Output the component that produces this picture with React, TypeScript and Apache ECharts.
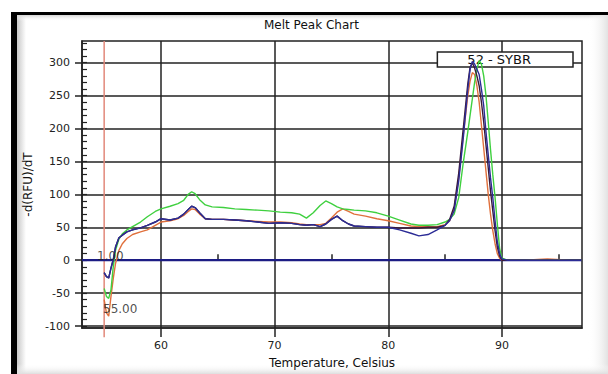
import React, { useEffect, useRef } from "react";
import * as echarts from "echarts";

// Temperatures (°C) at which the melt-peak curves are sampled
const temps = [
  55.0, 55.2, 55.4, 55.6, 55.8, 56.0, 56.3, 56.6, 57.0, 57.5,
  58.2, 58.8, 59.5, 60.0, 60.8, 61.5, 62.0, 62.4, 62.7, 63.0,
  63.4, 63.9, 64.5, 65.5, 66.5, 67.5, 68.5, 69.5, 70.5, 71.5,
  72.2, 72.8, 73.4, 74.0, 74.5, 75.0, 75.5, 76.0, 76.5, 77.0,
  78.0, 79.0, 80.0, 81.0, 82.0, 82.7, 83.5, 84.3, 85.0, 85.4,
  85.8, 86.2, 86.6, 87.0, 87.2, 87.4, 87.6, 87.8, 88.0, 88.2,
  88.4, 88.6, 88.8, 89.0, 89.2, 89.4, 89.6, 89.8, 90.0, 90.5,
  92.0, 94.0, 96.0, 97.0,
];

// -d(RFU)/dT values of each well
const blueWell = [
  -19, -25, -27, -12, 1, 20, 34, 38, 43, 46,
  49, 53, 58, 63, 61, 64, 70, 77, 82, 80,
  72, 63, 62, 62, 61, 60, 58, 56, 57, 56,
  54, 53, 54, 51, 55, 62, 67, 60, 55, 52,
  51, 50, 50, 46, 41, 37, 39, 46, 53, 60,
  75, 120, 185, 260, 290, 302, 298, 290, 282, 260,
  235, 195, 160, 125, 95, 60, 28, 10, 2, 0,
  0, 0, 0, 0,
];
const greenWell = [
  -43, -55, -58, -45, -10, 15, 32, 40, 46, 51,
  58, 66, 74, 78, 82, 86, 91, 100, 104, 101,
  92, 84, 81, 80, 78, 77, 76, 75, 73, 72,
  70, 64, 72, 83, 90, 86, 81, 78, 77, 76,
  75, 72, 67, 61, 55, 53, 53, 54, 58, 62,
  70, 95, 148, 195, 220, 245, 270, 290, 303, 298,
  280, 250, 210, 168, 130, 95, 55, 18, 3, 0,
  0, 0, 0, 0,
];
const orangeWell = [
  -60, -80, -85, -55, -28, -5, 15, 25, 33, 39,
  43, 46, 53, 58, 60, 63, 68, 74, 78, 77,
  70, 63, 62, 62, 61, 60, 59, 58, 58, 57,
  55, 54, 54, 54, 56, 64, 73, 78, 74, 70,
  67, 63, 60, 56, 52, 51, 51, 51, 54, 60,
  78, 125, 190, 250, 272, 285, 282, 265, 240, 205,
  170, 135, 100, 70, 45, 25, 10, 3, 0, 0,
  0, 2, 0, 0,
];
const darkWell = [
  -19, -25, -27, -12, 1, 20, 34, 38, 43, 46,
  49, 53, 58, 63, 61, 64, 70, 77, 82, 80,
  72, 63, 62, 62, 61, 60, 58, 56, 57, 56,
  54, 53, 54, 51, 55, 62, 67, 60, 55, 52,
  51, 50, 50, 49, 49, 49, 50, 50, 53, 62,
  82, 132, 200, 268, 293, 300, 292, 280, 265, 240,
  210, 175, 140, 105, 75, 45, 20, 6, 0, 0,
  0, 0, 0, 0,
];

// Axis ranges and ticks
const xRange = [53.05, 97.05];
const yRange = [-103, 333];
const xMajorTicks = [60, 70, 80, 90];
const xMinorTicks = [65, 75, 85, 95];
const yMajorTicks = [-100, -50, 0, 50, 100, 150, 200, 250, 300];
const yMinorTicks: number[] = [];
for (let v = -100; v <= 330; v += 10) yMinorTicks.push(v);

// Threshold / cursor marks
const cursorTemp = 55;
const cursorLabels = [
  { x: 54.37, y: 7, text: "1.00" },
  { x: 54.9, y: -74, text: "55.00" },
];
const legendName = "52 - SYBR";

const FONT = "DejaVu Sans";

function pairs(vals: number[]) {
  const n = Math.min(temps.length, vals.length);
  const out: number[][] = [];
  for (let i = 0; i < n; i++) out.push([temps[i], vals[i]]);
  return out;
}

export default function App() {
  const ref = useRef<HTMLDivElement>(null);
  useEffect(() => {
    if (!ref.current) return;
    const chart = echarts.init(ref.current, null, { renderer: "svg" });
    const lineBase = {
      type: "line",
      showSymbol: false,
      symbol: "none",
      smooth: false,
      silent: true,
    };
    const option: any = {
      animation: false,
      backgroundColor: "#ffffff",
      textStyle: { fontFamily: FONT },
      title: {
        text: "Melt Peak Chart",
        left: 264,
        top: 19,
        padding: 0,
        textStyle: { fontFamily: FONT, fontSize: 12, fontWeight: "normal", color: "#111" },
      },
      legend: {
        data: [{ name: legendName, icon: "none" }],
        right: 35,
        top: 52,
        itemWidth: 0,
        itemHeight: 0,
        padding: [1, 42, 1, 25],
        borderColor: "#222",
        borderWidth: 1.5,
        backgroundColor: "#fff",
        selectedMode: false,
        textStyle: { fontFamily: FONT, fontSize: 13, color: "#111" },
      },
      grid: {
        left: 82,
        right: 26,
        top: 41,
        bottom: 41,
        show: true,
        borderColor: "#222",
        borderWidth: 1.5,
        backgroundColor: "transparent",
      },
      xAxis: [
        {
          type: "value",
          min: xRange[0],
          max: xRange[1],
          position: "bottom",
          name: "Temperature, Celsius",
          nameLocation: "middle",
          nameGap: 29,
          nameTextStyle: { fontFamily: FONT, fontSize: 12, color: "#111" },
          axisLine: { show: true, onZero: false, lineStyle: { color: "#222", width: 1.5 } },
          axisTick: {
            show: true,
            customValues: xMajorTicks,
            inside: false,
            length: 9,
            lineStyle: { color: "#222", width: 1.5 },
          },
          axisLabel: {
            customValues: xMajorTicks,
            margin: 12,
            fontFamily: FONT,
            fontSize: 11,
            color: "#222",
          },
          splitLine: { show: true, lineStyle: { color: "#222", width: 1.5 } },
        },
        {
          type: "value",
          min: xRange[0],
          max: xRange[1],
          position: "bottom",
          axisLine: { show: false },
          axisTick: {
            show: true,
            customValues: xMinorTicks,
            inside: true,
            length: 6,
            lineStyle: { color: "#222", width: 1.5 },
          },
          axisLabel: { show: false },
          splitLine: { show: false },
        },
      ],
      yAxis: [
        {
          type: "value",
          min: yRange[0],
          max: yRange[1],
          position: "left",
          name: "-d(RFU)/dT",
          nameLocation: "middle",
          nameGap: 48,
          nameRotate: 90,
          nameTextStyle: { fontFamily: FONT, fontSize: 12, color: "#111" },
          axisLine: { show: true, onZero: false, lineStyle: { color: "#222", width: 1.5 } },
          axisTick: {
            show: true,
            customValues: yMajorTicks,
            inside: false,
            length: 7,
            lineStyle: { color: "#222", width: 1.5 },
          },
          axisLabel: {
            customValues: yMajorTicks,
            margin: 12,
            fontFamily: FONT,
            fontSize: 11,
            color: "#222",
          },
          splitLine: { show: true, lineStyle: { color: "#222", width: 1.5 } },
        },
        {
          type: "value",
          min: yRange[0],
          max: yRange[1],
          position: "left",
          axisLine: { show: false },
          axisTick: {
            show: true,
            customValues: yMinorTicks,
            inside: true,
            length: 5,
            lineStyle: { color: "#222", width: 1.2 },
          },
          axisLabel: { show: false },
          splitLine: { show: false },
        },
      ],
      graphic: [
        { type: "rect", z: -10, shape: { x: 11, y: 12, width: 6, height: 362 }, style: { fill: "#000" } },
        { type: "rect", z: -10, shape: { x: 11, y: 12, width: 597, height: 3 }, style: { fill: "#000" } },
        {
          type: "rect",
          z: -10,
          shape: { x: 17, y: 15, width: 9, height: 359 },
          style: {
            fill: new echarts.graphic.LinearGradient(0, 0, 1, 0, [
              { offset: 0, color: "#c8c8c8" },
              { offset: 1, color: "#ffffff" },
            ]),
          },
        },
        {
          type: "rect",
          z: -10,
          shape: { x: 17, y: 15, width: 591, height: 6 },
          style: {
            fill: new echarts.graphic.LinearGradient(0, 0, 0, 1, [
              { offset: 0, color: "#d4d4d4" },
              { offset: 1, color: "rgba(255,255,255,0)" },
            ]),
          },
        },
        {
          type: "rect",
          z: -10,
          shape: { x: 588, y: 15, width: 20, height: 359 },
          style: {
            fill: new echarts.graphic.LinearGradient(0, 0, 1, 0, [
              { offset: 0, color: "rgba(255,255,255,0)" },
              { offset: 1, color: "#e2e2e2" },
            ]),
          },
        },
        {
          type: "rect",
          z: -10,
          shape: { x: 17, y: 364, width: 591, height: 10 },
          style: {
            fill: new echarts.graphic.LinearGradient(0, 0, 0, 1, [
              { offset: 0, color: "rgba(255,255,255,0)" },
              { offset: 1, color: "#dedede" },
            ]),
          },
        },
      ],
      series: [
        {
          ...lineBase,
          name: "baseline",
          data: [[xRange[0], 0], [xRange[1], 0]],
          lineStyle: { color: "#1c1c84", width: 2.2 },
          z: 3,
        },
        {
          ...lineBase,
          name: "cursor",
          clip: false,
          data: [[cursorTemp, yRange[1]], [cursorTemp, -117]],
          lineStyle: { color: "#e2887a", width: 1.5 },
          z: 2,
        },
        { ...lineBase, name: "orange", data: pairs(orangeWell), lineStyle: { color: "#e0703c", width: 1.4 }, z: 4 },
        { ...lineBase, name: "green", data: pairs(greenWell), lineStyle: { color: "#3fd03f", width: 1.4 }, z: 4 },
        { ...lineBase, name: "dark", data: pairs(darkWell), lineStyle: { color: "#3a1a3a", width: 1.4 }, z: 4 },
        { ...lineBase, name: legendName, data: pairs(blueWell), lineStyle: { color: "#2c2c96", width: 1.4 }, z: 5 },
        {
          type: "scatter",
          name: "cursorLabels",
          symbolSize: 0,
          silent: true,
          data: cursorLabels.map((c) => [c.x, c.y, c.text]),
          label: {
            show: true,
            position: "right",
            distance: 0,
            formatter: (p: any) => p.value[2],
            fontFamily: FONT,
            fontSize: 12,
            color: "#222",
          },
          z: 6,
        },
      ],
    };
    chart.setOption(option);
    return () => chart.dispose();
  }, []);
  return (
    <div
      ref={ref}
      style={{ position: "absolute", left: 0, top: 0, width: 608, height: 374 }}
    />
  );
}
